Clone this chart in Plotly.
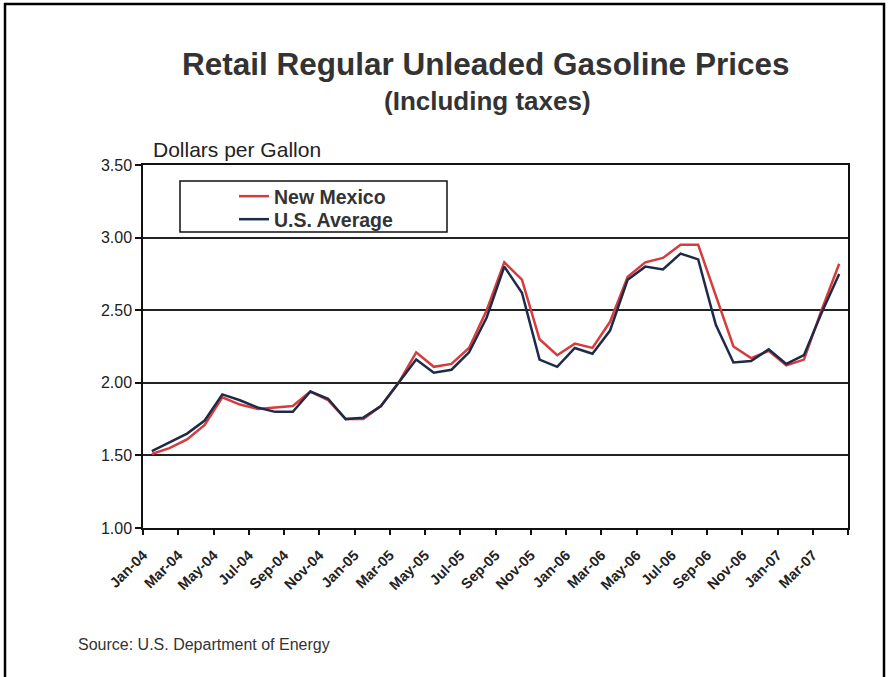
import plotly.graph_objects as go

months = ["Jan-04","Feb-04","Mar-04","Apr-04","May-04","Jun-04","Jul-04","Aug-04","Sep-04","Oct-04","Nov-04","Dec-04",
          "Jan-05","Feb-05","Mar-05","Apr-05","May-05","Jun-05","Jul-05","Aug-05","Sep-05","Oct-05","Nov-05","Dec-05",
          "Jan-06","Feb-06","Mar-06","Apr-06","May-06","Jun-06","Jul-06","Aug-06","Sep-06","Oct-06","Nov-06","Dec-06",
          "Jan-07","Feb-07","Mar-07","Apr-07"]
new_mexico = [1.51,1.55,1.61,1.71,1.90,1.85,1.82,1.83,1.84,1.94,1.88,1.75,
              1.75,1.84,2.00,2.21,2.11,2.13,2.24,2.50,2.83,2.71,2.30,2.19,
              2.27,2.24,2.42,2.73,2.83,2.86,2.95,2.95,2.60,2.25,2.17,2.22,
              2.12,2.16,2.50,2.82]
us_average = [1.53,1.59,1.65,1.74,1.92,1.88,1.83,1.80,1.80,1.94,1.89,1.75,
              1.76,1.84,2.00,2.16,2.07,2.09,2.21,2.45,2.80,2.62,2.16,2.11,
              2.24,2.20,2.36,2.71,2.80,2.78,2.89,2.85,2.40,2.14,2.15,2.23,
              2.13,2.19,2.48,2.75]
y_ticks = [1.00, 1.50, 2.00, 2.50, 3.00, 3.50]

idx = list(range(len(months)))
tickvals = [i - 0.5 for i in idx[::2]] + [len(months) - 0.5]
ticktext = months[::2] + [""]

FONT = "Liberation Sans, Arial, sans-serif"

fig = go.Figure()
fig.add_trace(go.Scatter(x=idx, y=new_mexico, mode="lines", name="New Mexico",
                         line=dict(color="#d63b3d", width=2.5), legend="legend"))
fig.add_trace(go.Scatter(x=idx, y=us_average, mode="lines", name="U.S. Average",
                         line=dict(color="#1e2a48", width=2.5), legend="legend2"))

W, H = 888, 677
L, T = 143, 165
R = W - 848
B = H - 528
pw, ph = W - L - R, H - T - B

def px(x):
    return (x - L) / pw

def py(y):
    return (H - B - y) / ph

leg_font = dict(size=19.5, color="#333", family=FONT, weight="bold")

fig.update_layout(
    width=W, height=H,
    margin=dict(l=L, r=R, t=T, b=B),
    paper_bgcolor="white", plot_bgcolor="white",
    font=dict(family=FONT, color="#222"),
    showlegend=True,
    legend=dict(x=px(234), y=py(177), xanchor="left", yanchor="top",
                bgcolor="rgba(0,0,0,0)", borderwidth=0, font=leg_font, itemwidth=30),
    legend2=dict(x=px(234), y=py(200), xanchor="left", yanchor="top",
                 bgcolor="rgba(0,0,0,0)", borderwidth=0, font=leg_font, itemwidth=30),
    xaxis=dict(range=[-0.5, len(months) - 0.5], tickmode="array",
               tickvals=tickvals, ticktext=ticktext, tickangle=-45,
               ticks="outside", ticklen=5, tickcolor="#111", tickwidth=1.5,
               ticklabelstandoff=6,
               showline=True, linecolor="#111", linewidth=2, mirror=True,
               showgrid=False, zeroline=False,
               tickfont=dict(size=14.5, color="#222", family=FONT, weight="bold")),
    yaxis=dict(range=[1.0, 3.5], tickmode="array", tickvals=y_ticks,
               ticktext=[f"{v:.2f}" for v in y_ticks],
               ticks="outside", ticklen=6, tickcolor="#111", tickwidth=1.5,
               showline=True, linecolor="#111", linewidth=1.5, mirror=True,
               showgrid=True, gridcolor="#222", gridwidth=1.5, zeroline=False,
               tickfont=dict(size=16, color="#222", family=FONT)),
    shapes=[
        dict(type="rect", xref="paper", yref="paper",
             x0=px(180), x1=px(447), y0=py(232), y1=py(181),
             line=dict(color="#111", width=1.5), fillcolor="rgba(0,0,0,0)"),
        dict(type="rect", xref="paper", yref="paper",
             x0=px(5), x1=px(884), y0=py(690), y1=py(4),
             line=dict(color="#000", width=2.5), fillcolor="rgba(0,0,0,0)"),
    ],
    annotations=[
        dict(text="<b>Retail Regular Unleaded Gasoline Prices</b>", xref="paper", yref="paper",
             x=px(485), y=py(64), xanchor="center", yanchor="middle", showarrow=False,
             font=dict(size=31.5, color="#333", family=FONT)),
        dict(text="<b>(Including taxes)</b>", xref="paper", yref="paper",
             x=px(487), y=py(101), xanchor="center", yanchor="middle", showarrow=False,
             font=dict(size=26, color="#333", family=FONT)),
        dict(text="Dollars per Gallon", xref="paper", yref="paper",
             x=px(151), y=py(149), xanchor="left", yanchor="middle", showarrow=False,
             font=dict(size=21, color="#222", family=FONT)),
        dict(text="Source: U.S. Department of Energy", xref="paper", yref="paper",
             x=px(76), y=py(644), xanchor="left", yanchor="middle", showarrow=False,
             font=dict(size=16, color="#333", family=FONT)),
    ],
)

fig.write_html("out.html",
               config={"displayModeBar": False},
               post_script="document.body.style.margin='0';document.body.style.overflow='hidden';")
